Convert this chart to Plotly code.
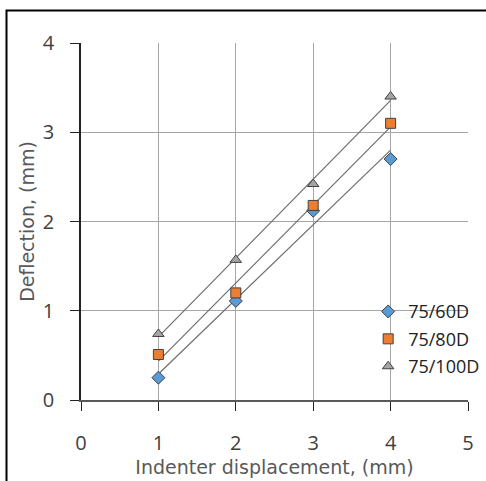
import numpy as np
import plotly.graph_objects as go

x_vals = [1, 2, 3, 4]
s60 = [0.25, 1.11, 2.12, 2.70]
s80 = [0.51, 1.20, 2.18, 3.10]
s100 = [0.74, 1.57, 2.42, 3.40]
names = ["75/60D", "75/80D", "75/100D"]
colors = ["#5b9bd5", "#ed7d31", "#a5a5a5"]
symbols = ["diamond", "square", "triangle-up"]
x_ticks = [0, 1, 2, 3, 4, 5]
y_ticks = [0, 1, 2, 3, 4]

fig = go.Figure()
series = [s60, s80, s100]
for ys in series:
    m, b = np.polyfit(x_vals, ys, 1)
    xs = [x_vals[0], x_vals[-1]]
    fig.add_trace(go.Scatter(x=xs, y=[m * v + b for v in xs], mode="lines",
                             line=dict(color="#6e6e6e", width=1.2),
                             showlegend=False, hoverinfo="skip"))
for i, ys in enumerate(series):
    fig.add_trace(go.Scatter(x=x_vals, y=ys, mode="markers", name=names[i],
                             legendgroup=names[i],
                             marker=dict(symbol=symbols[i], color=colors[i], size=10,
                                         line=dict(color="#404040", width=1))))

font = "Open Sans, DejaVu Sans, sans-serif"
tfont = "DejaVu Sans, sans-serif"
fig.update_layout(
    width=486, height=481,
    margin=dict(l=81, r=18, t=43, b=81, autoexpand=False),
    paper_bgcolor="white", plot_bgcolor="white",
    font=dict(family=font, color="#404040"),
    showlegend=True,
    legend=dict(x=0.742, y=0.299, xanchor="left", yanchor="top",
                bgcolor="rgba(0,0,0,0)", font=dict(size=18, color="#222222", family=font),
                traceorder="grouped", tracegroupgap=1, itemwidth=30),
    xaxis=dict(range=[0, 5], tickvals=x_ticks, showgrid=True, gridcolor="#a6a6a6",
               gridwidth=1, zeroline=False, showline=True, linecolor="#595959",
               linewidth=2, ticks="outside", ticklen=9, tickcolor="#222222",
               ticklabelstandoff=15, automargin=False,
               tickfont=dict(size=20, color="#404040"),
               title=dict(text="Indenter displacement, (mm)", standoff=4,
                          font=dict(size=19, color="#595959", family=tfont))),
    yaxis=dict(range=[0, 4], tickvals=y_ticks, showgrid=True, gridcolor="#a6a6a6",
               gridwidth=1, zeroline=False, showline=True, linecolor="#222222",
               linewidth=1.5, ticks="outside", ticklen=9, tickcolor="#222222",
               ticklabelstandoff=12, automargin=False,
               tickfont=dict(size=20, color="#404040"),
               title=dict(text="Deflection, (mm)", standoff=3,
                          font=dict(size=19, color="#595959", family=tfont))),
    shapes=[dict(type="rect", xref="paper", yref="paper",
                 x0=(6.5 - 81) / 387, x1=1.2, y0=-0.4, y1=(400 - 10.5) / 357,
                 line=dict(color="black", width=2), layer="below")],
)
fig.write_html("out.html")
